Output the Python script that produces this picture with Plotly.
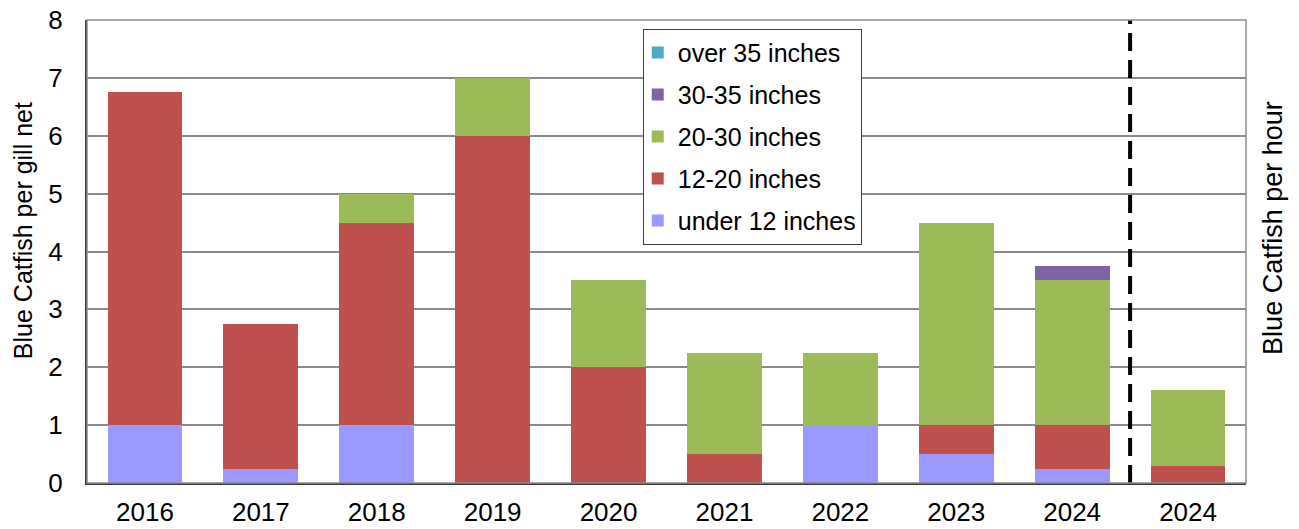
import plotly.graph_objects as go

# Gill-net survey years plus the electrofishing (per hour) column
years = ["2016", "2017", "2018", "2019", "2020", "2021", "2022", "2023", "2024"]
hour_label = ["2024"]

# Blue Catfish per gill net, by length class
under_12 = [1.0, 0.25, 1.0, 0.0, 0.0, 0.0, 1.0, 0.5, 0.25]
in_12_20 = [5.75, 2.5, 3.5, 6.0, 2.0, 0.5, 0.0, 0.5, 0.75]
in_20_30 = [0.0, 0.0, 0.5, 1.0, 1.5, 1.75, 1.25, 3.5, 2.5]
in_30_35 = [0.0, 0.0, 0.0, 0.0, 0.0, 0.0, 0.0, 0.0, 0.25]
over_35 = [0.0, 0.0, 0.0, 0.0, 0.0, 0.0, 0.0, 0.0, 0.0]

# Blue Catfish per hour, by length class
hour_under_12 = [0.0]
hour_12_20 = [0.3]
hour_20_30 = [1.3]
hour_30_35 = [0.0]
hour_over_35 = [0.0]

series = [
    ("under 12 inches", "#9999FF", under_12, hour_under_12),
    ("12-20 inches", "#C0504D", in_12_20, hour_12_20),
    ("20-30 inches", "#9BBB59", in_20_30, hour_20_30),
    ("30-35 inches", "#8064A2", in_30_35, hour_30_35),
    ("over 35 inches", "#4BACC6", over_35, hour_over_35),
]

left_title = "Blue Catfish per gill net"
right_title = "Blue Catfish per hour"

FONT = "Liberation Sans, Arial, sans-serif"
BAR_W = 0.645

x_net = list(range(len(years)))
x_hour = [len(years) + i for i in range(len(hour_label))]
tick_text = years + hour_label

fig = go.Figure()
n_series = len(series)
for i, (name, color, net_vals, hour_vals) in enumerate(series):
    # largest size class listed first in the legend
    rank = n_series - i
    fig.add_trace(go.Bar(
        x=x_net, y=net_vals, name=name, legendgroup=name, legendrank=rank,
        marker=dict(color=color, line=dict(width=0)), width=BAR_W,
    ))
    fig.add_trace(go.Bar(
        x=x_hour, y=hour_vals, name=name, legendgroup=name, legendrank=rank,
        showlegend=False,
        marker=dict(color=color, line=dict(width=0)), width=BAR_W, yaxis="y2",
    ))

# dashed divider between the per-net and per-hour columns
divider_x = len(years) - 0.5
fig.add_shape(type="line", xref="x", yref="paper", x0=divider_x, x1=divider_x,
              y0=0, y1=1, line=dict(color="black", width=4, dash="18px,9px"))

# plot frame
fig.add_shape(type="rect", xref="paper", yref="paper", x0=0, x1=1, y0=0, y1=1,
              line=dict(color="#8c8c8c", width=1.5), layer="above")

# axis titles, set slightly above the vertical centre of the plot
fig.add_annotation(text=left_title, textangle=-90, xref="paper", yref="paper",
                   x=-0.0552, y=0.544, xanchor="center", yanchor="middle",
                   showarrow=False, font=dict(family=FONT, size=25, color="black"))
fig.add_annotation(text=right_title, textangle=-90, xref="paper", yref="paper",
                   x=1.0233, y=0.551, xanchor="center", yanchor="middle",
                   showarrow=False, font=dict(family=FONT, size=27, color="black"))

fig.update_layout(
    width=1299, height=529,
    margin=dict(l=87, r=53, t=20, b=46, autoexpand=False),
    barmode="stack",
    plot_bgcolor="white", paper_bgcolor="white",
    font=dict(family=FONT, size=26, color="black"),
    legend=dict(
        x=0.4795, y=0.981, xanchor="left", yanchor="top",
        traceorder="grouped", tracegroupgap=6.5, itemwidth=30, indentation=-6,
        bgcolor="white", bordercolor="#404040", borderwidth=1,
        font=dict(family=FONT, size=25, color="black"),
    ),
    xaxis=dict(
        range=[-0.5, len(tick_text) - 0.5], automargin=False,
        tickmode="array", tickvals=x_net + x_hour, ticktext=tick_text,
        showgrid=False, zeroline=False, ticks="", ticklabelstandoff=5,
        showline=True, linecolor="#3a3a3a", linewidth=2,
    ),
    yaxis=dict(
        range=[0, 8], dtick=1, showgrid=True, gridcolor="#8a8a8a", gridwidth=1.5,
        zeroline=False, ticks="", ticklabelstandoff=17, automargin=False,
        showline=True, linecolor="#3a3a3a", linewidth=2,
    ),
    yaxis2=dict(
        range=[0, 8], overlaying="y", side="right", showgrid=False,
        zeroline=False, showticklabels=False, ticks="", automargin=False,
    ),
)

fig.write_html("out.html")
